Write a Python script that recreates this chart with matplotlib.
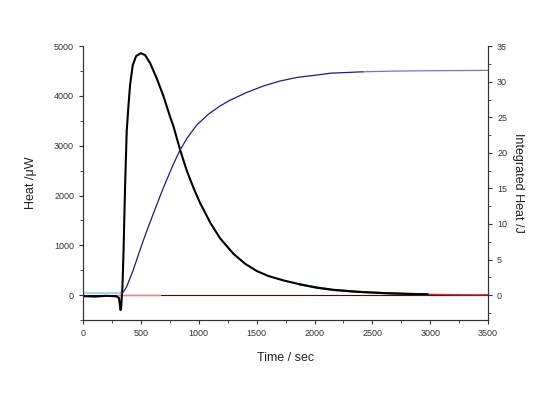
import matplotlib.pyplot as plt
from matplotlib.ticker import MultipleLocator

plt.rcParams['font.family'] = ['Liberation Sans', 'DejaVu Sans']

# heat flow (black), uW
t_heat = [0, 100, 200, 290, 310, 318, 324, 329, 334, 340, 349, 363, 377, 392, 406, 429, 458,
          499, 536, 579, 637, 694, 752, 781, 838, 896, 960, 1011, 1100, 1184, 1299, 1400, 1500,
          1600, 1731, 1876, 2020, 2163, 2365, 2600, 2800, 2975]
heat = [-20, -30, -15, -25, -60, -200, -300, -240, -50, 170, 840, 2200, 3300, 3800, 4220, 4620, 4800,
        4860, 4820, 4660, 4350, 4000, 3580, 3390, 2920, 2500, 2120, 1850, 1450, 1140, 830, 630, 485,
        385, 295, 215, 150, 105, 67, 40, 25, 15]

# integrated heat (blue), J
t_int = [330, 349, 377, 406, 435, 464, 493, 521, 550, 608, 694, 780, 838, 900, 982, 1080, 1184,
         1270, 1415, 1558, 1703, 1847, 2048, 2135, 2423]
integ = [0.3, 0.45, 1.2, 2.4, 3.6, 5.0, 6.4, 7.7, 9.0, 11.5, 15.1, 18.4, 20.4, 22.1, 23.9, 25.4, 26.6,
         27.4, 28.5, 29.4, 30.1, 30.6, 31.0, 31.2, 31.4]
t_int2 = [2423, 2711, 3000, 3500]
integ2 = [31.4, 31.5, 31.55, 31.6]

# baseline before injection (cyan), J
t_base = [0, 330]
base = [0.33, 0.33]

# fitted tail (green) and baseline pieces (red / pink), uW
t_green = [1876, 2020, 2163, 2365, 2600, 2800, 2975]
green = [215, 150, 105, 67, 40, 25, 15]
t_pink = [293, 665]
pink = [0, 0]
t_red = [2540, 2700, 2900, 3100, 3300, 3450, 3500]
red = [40, 28, 18, 10, 6, 5, 8]

fig = plt.figure(figsize=(5.54, 3.98), dpi=100)
ax = fig.add_axes([0.150, 0.196, 0.731, 0.688])
ax2 = ax.twinx()

ax.axhline(0, color='#4a0a0a', lw=0.8, zorder=1)
ax.plot(t_pink, pink, color='#ff8080', lw=1.0, zorder=2)
ax.plot(t_green, green, color='#2e8b57', lw=1.6, zorder=2)
ax.plot(t_red, red, color='#e0202a', lw=1.0, zorder=2)
ax.plot(t_heat, heat, color='black', lw=1.5, zorder=3)

ax2.plot(t_base, base, color='#87cefa', lw=1.2)
ax2.plot(t_int, integ, color='#1a1a8c', lw=0.9)
ax2.plot(t_int2, integ2, color='#7070f0', lw=0.9)

ax.set_xlim(0, 3500)
ax.set_ylim(-500, 5000)
ax2.set_ylim(-3.5, 35)

ax.xaxis.set_major_locator(MultipleLocator(500))
ax.xaxis.set_minor_locator(MultipleLocator(250))
ax.yaxis.set_major_locator(MultipleLocator(1000))
ax.yaxis.set_minor_locator(MultipleLocator(500))
ax2.yaxis.set_major_locator(MultipleLocator(5))
ax2.yaxis.set_minor_locator(MultipleLocator(2.5))

for a in (ax, ax2):
    a.spines['top'].set_visible(False)
    a.tick_params(which='major', direction='out', length=3, width=0.8, labelsize=6.5, colors='#333333')
    a.tick_params(which='minor', direction='out', length=2, width=0.6, colors='#333333')
    for s in a.spines.values():
        s.set_linewidth(0.8)
        s.set_color('#333333')

ax.set_xlabel("Time / sec", fontsize=9, color='#222222', labelpad=10)
ax.set_ylabel("Heat /\u03bcW", fontsize=9, color='#222222', labelpad=12)
ax2.set_ylabel("Integrated Heat /J", fontsize=9, color='#222222', rotation=270, labelpad=12)

fig.savefig("out.png", dpi=100)
